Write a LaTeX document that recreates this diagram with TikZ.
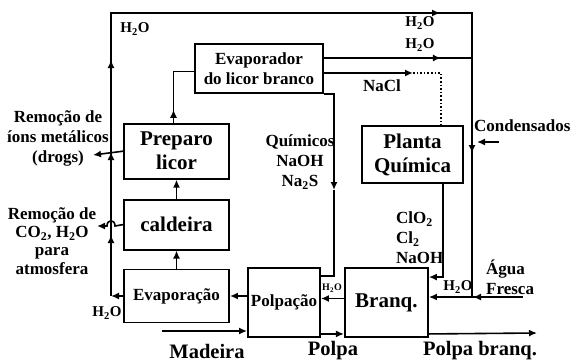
\documentclass[tikz,border=0pt]{standalone}
\usepackage{fontspec}
\setmainfont{Liberation Serif}
\usetikzlibrary{arrows.meta, positioning, calc, decorations.markings}

\begin{document}
\begin{tikzpicture}[
    x=1pt, y=-1pt,
    unit/.style={rectangle, draw, line width=1.9pt, inner sep=1pt,
                 align=center, font=\fontsize{21}{24}\selectfont\bfseries},
    midunit/.style={unit, font=\fontsize{17}{20}\selectfont\bfseries},
    lbl/.style={align=center, inner sep=0pt,
                font=\fontsize{17}{20}\selectfont\bfseries},
    sml/.style={lbl, font=\fontsize{15}{18}\selectfont\bfseries},
    big/.style={lbl, font=\fontsize{20.5}{24}\selectfont\bfseries},
    pipe/.style={line width=1.6pt},
    flow/.style={pipe, -{Latex[length=8pt,width=7pt]}},
    tipat/.style={postaction={decorate, decoration={markings,
                  mark=at position #1 with {\arrow{Latex[length=8pt,width=7pt]}}}}},
    node distance=18pt
]
\useasboundingbox (0,0) rectangle (572,361);

% units
\node[midunit, minimum width=105pt, minimum height=53pt] (evap) at (176.5,296) {Evapora\c{c}\~ao};
\node[unit, minimum width=105pt, minimum height=50pt, above=18pt of evap] (cald) {caldeira};
\node[unit, minimum width=105pt, minimum height=55pt, above=19pt of cald] (prep) {Preparo\\licor};
\node[midunit, minimum width=128pt, minimum height=49pt] (evapL) at (259,68.5) {Evaporador\\do licor branco};
\node[midunit, minimum width=72pt, minimum height=69pt] (polp) at (284,302.5) {Polpa\c{c}\~ao};
\node[unit, minimum width=83pt, minimum height=69pt, right=23pt of polp] (branq) {Branq.};
\node[unit, minimum width=101pt, minimum height=57pt] (planta) at (412.5,154.5) {Planta\\Qu\'{\i}mica};

% corner points
\coordinate (lb) at (111,296);
\coordinate (lt) at (111,13);
\coordinate (rt) at (472,13);
\coordinate (rb) at (472,297);
\coordinate (agua) at (523,297);
\coordinate (h2oB) at (472,58);
\coordinate (nacl) at (413,73);
\coordinate (naclR) at (441,73);
\coordinate (quim) at (334,190);
\coordinate (mad) at (162,331);
\coordinate (pbq) at (537,333);
\coordinate (ions) at (93,155);
\coordinate (co2) at (97,226);
\coordinate (hop) at (111,226);
\coordinate (condA) at (499,142);
\coordinate (condB) at (477,142);

% water loop
\draw[flow] (evap.west) -- (lb);
\draw[pipe, tipat=61pt, tipat=144pt, tipat=236pt, tipat=612pt, tipat=784pt]
    (lb) -- (lt) -- (rt) -- (rb);
\draw[pipe, tipat=117pt] (evapL.east |- h2oB) -- (h2oB);
\draw[flow, tipat=50pt] (agua) -- (agua -| branq.east);
\draw[flow] (condA) -- (condB);

% liquor and chemicals
\draw[flow] (evapL.east |- nacl) -- (nacl);
\draw[pipe, dotted] (nacl) -- (naclR) -- (naclR |- planta.north);
\draw[flow] (evapL.south east) -| (quim);
\draw[pipe] (quim) |- ($(polp.north east)+(0,9)$);
\draw[flow] ($(planta.south east)+(-21,0)$) |- ($(branq.north east)+(0,10)$);
\draw[pipe, tipat=13pt] ($(prep.north)+(-3,0)$) |- ($(evapL.west)+(0,3)$);
\draw[flow] (evap.north) -- (cald.south);
\draw[flow] (cald.north) -- (prep.south);
\draw[flow] (prep.west) -- (ions);
\draw[flow] (cald.west) -- ($(hop)+(4,0)$)
    .. controls ($(hop)+(4,-7)$) and ($(hop)+(-4,-7)$) .. ($(hop)+(-4,0)$) -- (co2);

% pulp line
\draw[flow] (mad) -- (mad -| polp.west);
\draw[flow] (polp.west |- evap.east) -- (evap.east);
\draw[flow] ($(branq.west)+(0,-4)$) -- ($(polp.east)+(0,-4)$);
\draw[flow] ($(polp.south east)+(0,-4)$) -- ($(branq.south west)+(0,-4)$);
\draw[flow] ($(branq.south east)+(0,-4)$) -- (pbq);

% labels
\node[sml] (h2oT) at (135,29) {H\textsubscript{2}O};
\node[sml] (h2oR1) at (420,23) {H\textsubscript{2}O};
\node[sml] (h2oR2) at (420,45) {H\textsubscript{2}O};
\node[lbl] (naclL) at (382,86) {NaCl};
\node[lbl, anchor=west] (condL) at (474,126) {Condensados};
\node[lbl] (quimL) at (300,162) {Qu\'{\i}micos\\NaOH\\Na\textsubscript{2}S};
\node[lbl, align=left, anchor=west] (clL) at (396,238) {ClO\textsubscript{2}\\Cl\textsubscript{2}\\NaOH};
\node[lbl] (ionsL) at (58,138) {Remo\c{c}\~ao de\\\'{\i}ons met\'alicos\\(drogs)};
\node[lbl, font=\fontsize{17}{18.3}\selectfont\bfseries] (co2L) at (52,241)
    {Remo\c{c}\~ao de\\CO\textsubscript{2}, H\textsubscript{2}O\\para\\atmosfera};
\node[sml] (h2oE) at (107,313) {H\textsubscript{2}O};
\node[lbl, font=\fontsize{10}{12}\selectfont\bfseries] (h2oP) at (332,288) {H\textsubscript{2}O};
\node[sml] (h2oA) at (458,287) {H\textsubscript{2}O};
\node[lbl, align=left, anchor=west] (aguaL) at (486,277) {\'Agua\\Fresca};
\node[big] (madL) at (207,351) {Madeira};
\node[big] (polpL) at (333,351) {Polpa};
\node[big] (pbL) at (480,351) {Polpa branq.};
\end{tikzpicture}
\end{document}
